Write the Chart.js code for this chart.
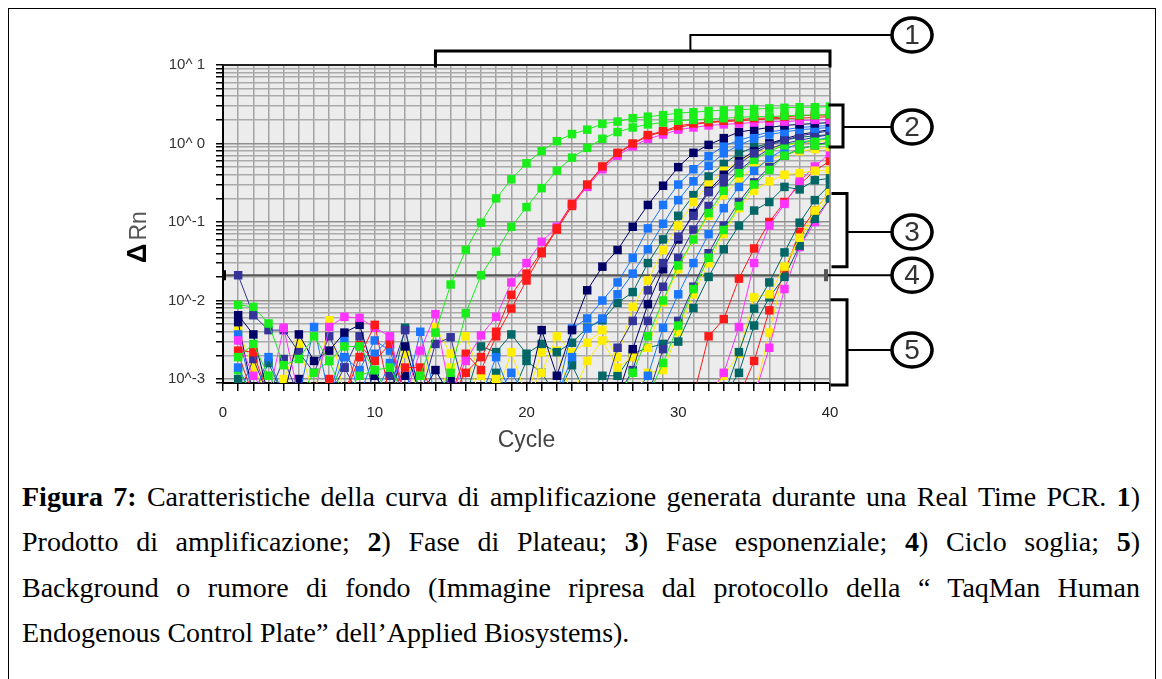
<!DOCTYPE html>
<html>
<head>
<meta charset="utf-8">
<title>Curva di amplificazione Real Time PCR</title>
<script src="https://cdn.jsdelivr.net/npm/chart.js@4.4.1/dist/chart.umd.min.js"></script>
<style>
html, body { margin: 0; padding: 0; background: #fff; }
body { width: 1162px; height: 679px; position: relative; overflow: hidden; }
#frame { position: absolute; left: 8px; top: 8px; width: 1148px; height: 700px; border: 1.5px solid #000; box-sizing: border-box; }
#chart { position: absolute; left: 0; top: 0; }
#caption { position: absolute; left: 22px; top: 474px; width: 1118px;
  font-family: 'Liberation Serif', 'Times New Roman', serif; font-size: 28px; line-height: 45.3px; color: #000; }
#caption div { text-align: justify; text-align-last: justify; }
#caption div.last { text-align-last: left; }
</style>
</head>
<body>
<div id="frame"></div>
<canvas id="chart" width="1162" height="470"></canvas>
<div id="caption">
  <div><b>Figura 7:</b> Caratteristiche della curva di amplificazione generata durante una Real Time PCR. <b>1</b>)</div>
  <div>Prodotto di amplificazione; <b>2</b>) Fase di Plateau; <b>3</b>) Fase esponenziale; <b>4</b>) Ciclo soglia; <b>5</b>)</div>
  <div>Background o rumore di fondo (Immagine ripresa dal protocollo della &ldquo; TaqMan Human</div>
  <div class="last">Endogenous Control Plate&rdquo; dell&rsquo;Applied Biosystems).</div>
</div>
<script>
// cycles on the x axis
const cycles = [1,2,3,4,5,6,7,8,9,10,11,12,13,14,15,16,17,18,19,20,
                21,22,23,24,25,26,27,28,29,30,31,32,33,34,35,36,37,38,39,40];

// reads that sit below the axis floor (only their lines show, dropping out)
const lo = 0.0006;

// threshold (ciclo soglia)
const threshold = 0.021;

// y axis decades and their labels
const decades = [0.001, 0.01, 0.1, 1, 10];
const decadeLabels = ['10^-3', '10^-2', '10^-1', '10^ 0', '10^ 1'];

// ΔRn per well, cycles 1..40
const green1 = [0.0088,0.0083,0.0051,0.0015,0.0018,0.0035,0.0017,0.0026,0.0026,0.0013,
  0.0014,lo,0.0011,0.0039,0.016,0.044,0.098,0.20,0.35,0.56,
  0.80,1.07,1.32,1.5,1.78,1.9,2.1,2.2,2.3,2.45,
  2.5,2.6,2.65,2.7,2.75,2.8,2.85,2.9,2.9,2.95];
const green2 = [0.0019,0.0028,0.0011,lo,lo,0.0012,0.0017,lo,0.0011,0.0013,
  lo,lo,lo,lo,0.0012,0.0069,0.021,0.042,0.087,0.155,
  0.27,0.45,0.66,0.88,1.15,1.4,1.6,1.75,1.85,1.95,
  2.0,2.05,2.1,2.15,2.2,2.2,2.25,2.3,2.3,2.35];
const red1 = [0.0023,0.0022,lo,lo,lo,lo,0.001,lo,0.0019,0.0049,
  lo,0.0014,0.0014,lo,lo,0.0012,0.0019,0.004,0.0118,0.022,
  0.042,0.083,0.17,0.30,0.51,0.76,1.0,1.28,1.44,1.67,
  1.8,1.87,1.95,2.0,2.1,2.1,2.2,2.25,2.3,2.3];
const red2 = [0.0021,lo,lo,lo,lo,lo,lo,lo,0.0027,0.0017,
  0.0028,lo,lo,lo,lo,0.0021,0.0013,0.0035,0.0079,0.018,
  0.04,0.08,0.16,0.29,0.5,0.74,0.98,1.25,1.4,1.6,
  1.75,1.85,1.9,1.95,2.0,2.05,2.1,2.1,2.15,2.2];
const magenta1 = [0.0031,0.0011,lo,0.0045,lo,lo,0.0046,0.0062,0.006,0.0045,
  0.0035,lo,0.0023,0.0067,lo,0.0017,0.0036,0.0062,0.017,0.030,
  0.056,0.087,0.17,0.28,0.47,0.7,0.92,1.15,1.3,1.5,
  1.6,1.7,1.75,1.8,1.85,1.9,1.9,1.95,2.0,2.0];
const navy1 = [0.0065,0.0037,lo,lo,0.0037,0.0017,0.0023,0.0039,0.0049,0.0011,
  lo,0.0026,lo,0.0013,lo,lo,lo,lo,lo,lo,
  0.0042,0.0011,0.0042,0.0135,0.027,0.044,0.087,0.165,0.29,0.50,
  0.76,0.96,1.17,1.4,1.5,1.6,1.7,1.75,1.8,1.85];
const blue1 = [0.0037,lo,0.0019,lo,lo,0.0046,lo,0.0019,0.0013,0.0031,
  0.0023,lo,0.004,lo,lo,lo,lo,lo,0.0012,lo,
  lo,lo,0.0044,0.0059,0.010,0.017,0.035,0.083,0.165,0.30,
  0.47,0.69,0.93,1.1,1.25,1.4,1.5,1.6,1.65,1.7];
const blue2 = [0.0014,lo,lo,lo,lo,lo,lo,0.0031,lo,0.0021,
  0.0033,lo,lo,lo,lo,lo,lo,0.0019,lo,lo,
  lo,lo,0.0019,0.0044,0.0059,0.012,0.022,0.045,0.095,0.19,
  0.33,0.52,0.75,0.95,1.15,1.3,1.4,1.5,1.55,1.6];
const slate1 = [0.021,0.0065,0.0042,0.0042,0.0022,0.0012,0.0035,0.0014,0.0035,lo,
  0.0011,0.0042,lo,0.0028,0.0034,lo,lo,lo,lo,lo,
  lo,lo,lo,lo,lo,0.0025,0.0055,0.0135,0.030,0.065,
  0.12,0.24,0.36,0.55,0.75,0.95,1.1,1.25,1.35,1.45];
const teal1 = [0.001,lo,lo,lo,lo,lo,lo,lo,lo,lo,
  lo,0.0045,lo,lo,lo,lo,0.0026,0.0022,0.0037,0.0021,
  0.0028,0.0022,0.0029,0.0045,0.0056,0.0093,0.0128,0.03,0.06,0.12,
  0.22,0.38,0.55,0.75,0.9,1.0,1.1,1.2,1.25,1.3];
const teal2 = [lo,lo,0.0016,lo,lo,lo,lo,lo,lo,lo,
  lo,lo,lo,lo,lo,lo,lo,0.0012,lo,0.0017,
  0.0012,lo,0.0015,lo,0.0011,0.0011,0.0021,0.0025,0.0028,0.003,
  0.008,0.02,0.045,0.09,0.14,0.18,0.28,0.26,0.34,0.36];
const yellow1 = [0.0042,0.0014,lo,0.001,0.0028,lo,0.0056,lo,lo,lo,
  lo,0.0021,lo,0.0046,0.0021,0.0035,0.0011,lo,0.0022,lo,
  0.0012,0.0035,0.0022,0.0029,0.0042,0.0019,0.0083,0.018,0.044,0.09,
  0.18,0.3,0.45,0.6,0.75,0.85,0.95,1.0,1.05,1.1];
const yellow2 = [lo,lo,lo,lo,lo,lo,lo,lo,lo,lo,
  lo,lo,lo,lo,0.0014,0.0019,lo,0.001,lo,lo,
  0.0022,0.0023,lo,0.0017,0.0031,0.0014,0.0019,0.0025,0.0095,0.025,
  0.06,0.12,0.22,0.35,0.5,0.62,0.72,0.8,0.85,0.9];
const navy2 = [0.0053,lo,lo,lo,0.001,lo,lo,lo,lo,lo,
  lo,0.0011,lo,lo,0.00097,lo,lo,lo,lo,lo,
  lo,lo,lo,lo,lo,lo,0.0024,0.009,0.025,0.06,
  0.13,0.25,0.4,0.6,0.8,1.0,1.15,1.3,1.4,1.5];
const slate2 = [lo,0.0018,lo,0.0018,lo,lo,lo,0.0014,lo,0.0011,
  lo,lo,lo,lo,lo,lo,lo,lo,lo,lo,
  lo,lo,lo,lo,lo,lo,0.0013,0.0055,0.015,0.035,
  0.08,0.16,0.3,0.45,0.65,0.85,1.0,1.1,1.2,1.3];
const green3 = [lo,lo,lo,lo,lo,lo,lo,lo,lo,lo,
  lo,lo,lo,lo,lo,lo,lo,lo,lo,lo,
  lo,lo,lo,lo,lo,lo,lo,lo,0.0016,0.0048,
  0.014,0.035,0.079,0.16,0.3,0.46,0.7,0.85,0.95,1.0];
const green4 = [0.0013,lo,lo,lo,lo,lo,lo,lo,lo,lo,
  lo,lo,lo,lo,lo,lo,lo,lo,lo,lo,
  lo,lo,lo,lo,lo,lo,0.0012,0.0035,0.01,0.028,
  0.06,0.13,0.25,0.42,0.62,0.8,0.95,1.05,1.1,1.15];
const blue3 = [lo,lo,lo,lo,lo,lo,lo,lo,lo,lo,
  0.0016,lo,lo,lo,lo,lo,lo,lo,lo,lo,
  lo,lo,lo,lo,lo,lo,lo,0.0011,0.0045,0.012,
  0.03,0.07,0.15,0.28,0.45,0.65,0.85,1.0,1.1,1.2];
const slate3 = [lo,lo,lo,lo,lo,lo,lo,lo,lo,lo,
  lo,lo,lo,lo,lo,lo,lo,lo,lo,lo,
  lo,lo,lo,lo,lo,lo,lo,lo,0.0024,0.0055,
  0.015,0.04,0.09,0.18,0.32,0.5,0.7,0.85,0.95,1.05];
const yellow3 = [lo,lo,lo,lo,lo,lo,lo,lo,lo,lo,
  lo,lo,lo,lo,lo,lo,lo,lo,lo,lo,
  lo,lo,lo,lo,lo,lo,lo,0.0012,0.0013,0.004,
  0.012,0.03,0.07,0.15,0.25,0.33,0.4,0.42,0.45,0.45];
const magenta2 = [lo,lo,lo,lo,lo,lo,lo,lo,lo,lo,
  lo,lo,lo,lo,lo,lo,lo,lo,lo,lo,
  lo,lo,lo,lo,lo,lo,lo,lo,lo,lo,
  lo,lo,0.0012,0.0046,0.030,0.09,0.17,0.33,0.51,0.75];
const red3 = [lo,lo,lo,lo,lo,lo,lo,lo,lo,lo,
  lo,lo,lo,lo,lo,lo,lo,lo,lo,lo,
  lo,lo,lo,lo,lo,lo,lo,lo,lo,lo,
  lo,0.0035,0.0058,0.019,0.046,0.10,0.18,0.3,0.45,0.6];
const yellow4 = [lo,lo,lo,lo,lo,lo,lo,lo,lo,lo,
  lo,lo,lo,lo,lo,lo,lo,lo,lo,lo,
  lo,lo,lo,lo,lo,lo,lo,lo,lo,lo,
  lo,lo,0.0011,0.0021,0.011,0.012,0.027,0.063,0.14,0.25];
const teal3 = [lo,lo,lo,lo,lo,lo,lo,lo,lo,lo,
  lo,lo,lo,lo,lo,lo,lo,lo,lo,lo,
  lo,lo,lo,lo,lo,lo,lo,lo,lo,lo,
  lo,lo,lo,0.0022,0.0079,0.017,0.041,0.098,0.19,0.3];
const teal4 = [lo,lo,lo,lo,lo,lo,lo,lo,lo,lo,
  lo,lo,lo,lo,lo,lo,lo,lo,lo,lo,
  lo,lo,lo,lo,lo,lo,lo,lo,lo,lo,
  lo,lo,lo,0.0012,0.0048,0.011,0.02,0.05,0.11,0.2];
const red4 = [lo,lo,lo,lo,lo,lo,lo,lo,lo,lo,
  lo,lo,lo,lo,lo,lo,lo,lo,lo,lo,
  lo,lo,lo,lo,lo,lo,lo,lo,lo,lo,
  lo,lo,lo,lo,0.0017,0.0075,0.023,0.075,0.14,0.25];
const magenta3 = [lo,lo,lo,lo,lo,lo,lo,lo,lo,lo,
  lo,lo,lo,lo,lo,lo,lo,lo,lo,lo,
  lo,lo,lo,lo,lo,lo,lo,lo,lo,lo,
  lo,lo,lo,lo,lo,0.0025,0.014,0.048,0.1,0.2];
const yellow5 = [lo,lo,lo,lo,lo,lo,lo,lo,lo,lo,
  lo,lo,lo,lo,lo,lo,lo,lo,lo,lo,
  lo,lo,lo,lo,lo,lo,lo,lo,lo,lo,
  lo,lo,lo,lo,lo,0.0039,0.025,0.06,0.12,0.22];

const GREEN = '#1aee1a', RED = '#ff1a1a', MAGENTA = '#ff33ff', NAVY = '#000066',
      BLUE = '#1a75ff', SLATE = '#333399', TEAL = '#006666', YELLOW = '#ffee00';

// first in the list ends up on top
const wells = [
  [green1, GREEN], [green2, GREEN], [red1, RED], [magenta1, MAGENTA], [red2, RED],
  [navy1, NAVY], [blue1, BLUE], [blue2, BLUE], [slate1, SLATE], [navy2, NAVY],
  [green3, GREEN], [green4, GREEN], [slate2, SLATE], [blue3, BLUE], [slate3, SLATE],
  [yellow1, YELLOW], [teal1, TEAL], [yellow2, YELLOW], [teal2, TEAL], [yellow3, YELLOW],
  [magenta2, MAGENTA], [red3, RED], [teal3, TEAL], [yellow4, YELLOW], [teal4, TEAL],
  [red4, RED], [magenta3, MAGENTA], [yellow5, YELLOW]
];

const datasets = wells.map(([vals, color]) => ({
  data: vals.map((v, i) => ({ x: cycles[i], y: v })),
  borderColor: color,
  backgroundColor: color,
  borderWidth: 1,
  pointStyle: 'rect',
  pointRadius: 6,
  pointHoverRadius: 6,
  pointBorderWidth: 0
}));

datasets.push({
  data: [{ x: 0, y: threshold }, { x: 40, y: threshold }],
  borderColor: '#555',
  borderWidth: 2,
  pointRadius: 0
});

const isDecade = v => Math.abs(Math.log10(v) - Math.round(Math.log10(v))) < 1e-9;

// plot background, frame, axis title and the numbered brackets on the right
const decorations = {
  id: 'decorations',
  beforeDraw(chart) {
    const { ctx, chartArea: a } = chart;
    ctx.save();
    ctx.fillStyle = '#ececec';
    ctx.fillRect(a.left, a.top, a.right - a.left, a.bottom - a.top);
    ctx.restore();
  },
  afterDraw(chart) {
    const { ctx, chartArea: a, scales: { x, y } } = chart;
    ctx.save();

    // top edge dark, right edge grey
    ctx.strokeStyle = '#222';
    ctx.lineWidth = 2;
    ctx.beginPath(); ctx.moveTo(a.left, a.top); ctx.lineTo(a.right, a.top); ctx.stroke();
    ctx.strokeStyle = '#888';
    ctx.lineWidth = 1.5;
    ctx.beginPath(); ctx.moveTo(a.right, a.top); ctx.lineTo(a.right, a.bottom); ctx.stroke();

    // threshold marker on the y axis
    const ty = y.getPixelForValue(threshold);
    ctx.fillStyle = '#000';
    ctx.fillRect(a.left - 1, ty - 5, 4, 10);

    // ΔRn
    ctx.translate(139, 237);
    ctx.rotate(-Math.PI / 2);
    ctx.textBaseline = 'middle';
    ctx.font = 'bold 27px "Liberation Sans", Arial, sans-serif';
    const wD = ctx.measureText('\u0394').width;
    ctx.font = '23px "Liberation Sans", Arial, sans-serif';
    const wR = ctx.measureText('Rn').width;
    const x0 = -(wD + wR + 3) / 2;
    ctx.fillStyle = '#000';
    ctx.font = 'bold 27px "Liberation Sans", Arial, sans-serif';
    ctx.textAlign = 'left';
    ctx.fillText('\u0394', x0, 0);
    ctx.fillStyle = '#555';
    ctx.font = '23px "Liberation Sans", Arial, sans-serif';
    ctx.fillText('Rn', x0 + wD + 3, 1);
    ctx.setTransform(1, 0, 0, 1, 0, 0);

    // brackets
    const cx = a.right + 82, rx = 20, ry = 17;
    const line = (pts, w) => {
      ctx.lineWidth = w;
      ctx.beginPath();
      ctx.moveTo(pts[0][0], pts[0][1]);
      for (let i = 1; i < pts.length; i++) ctx.lineTo(pts[i][0], pts[i][1]);
      ctx.stroke();
    };
    ctx.strokeStyle = '#000';
    ctx.lineCap = 'square';

    // 1: amplified product, cycles 14..40 above the plot
    const bx0 = x.getPixelForValue(14), bx1 = a.right, bTop = a.top - 14;
    line([[bx0, a.top + 1], [bx0, bTop], [bx1, bTop], [bx1, a.top + 1]], 3);
    const stemX = x.getPixelForValue(30.8);
    line([[stemX, bTop], [stemX, 35], [cx - rx, 35]], 2);

    // 2: plateau
    const p0 = y.getPixelForValue(3.1), p1 = y.getPixelForValue(0.9);
    line([[a.right, p0], [a.right + 13, p0], [a.right + 13, p1], [a.right, p1]], 3);
    line([[a.right + 13, 127], [cx - rx, 127]], 2);

    // 3: exponential phase
    const e0 = y.getPixelForValue(0.23), e1 = y.getPixelForValue(0.027);
    line([[a.right + 3, e0], [a.right + 17, e0], [a.right + 17, e1], [a.right + 3, e1]], 3);
    line([[a.right + 17, 232], [cx - rx, 232]], 2);

    // 4: threshold
    line([[a.right - 4, ty], [cx - rx, ty]], 2);
    ctx.fillRect(a.right - 6, ty - 6, 4, 12);

    // 5: background
    const n0 = y.getPixelForValue(0.0102), n1 = a.bottom + 2;
    line([[a.right + 2, n0], [a.right + 17, n0], [a.right + 17, n1], [a.right + 2, n1]], 3);
    line([[a.right + 17, 350], [cx - rx, 350]], 2);

    // numbered circles
    const marks = [[35, '1'], [127, '2'], [232, '3'], [ty, '4'], [350, '5']];
    ctx.textAlign = 'center';
    ctx.textBaseline = 'middle';
    ctx.font = '28px "Liberation Sans", Arial, sans-serif';
    marks.forEach(([cy, txt]) => {
      ctx.fillStyle = '#fff';
      ctx.lineWidth = 3.5;
      ctx.beginPath();
      ctx.ellipse(cx, cy, rx, ry, 0, 0, Math.PI * 2);
      ctx.fill();
      ctx.stroke();
      ctx.fillStyle = '#333';
      ctx.fillText(txt, cx, cy + 1);
    });
    ctx.restore();
  }
};

Chart.defaults.font.family = '"Liberation Sans", Arial, sans-serif';

new Chart(document.getElementById('chart'), {
  type: 'line',
  data: { datasets },
  options: {
    responsive: false,
    animation: false,
    events: [],
    layout: { padding: { left: 0, top: 65, right: 332, bottom: 0 } },
    plugins: { legend: { display: false }, tooltip: { enabled: false } },
    scales: {
      x: {
        type: 'linear',
        min: 0,
        max: 40,
        afterFit(axis) { axis.height = 87; },
        border: { color: '#000', width: 2 },
        grid: { color: '#a3a3a3', lineWidth: 1.5, tickLength: 8, tickColor: '#000', tickWidth: 1.5 },
        ticks: {
          stepSize: 1,
          autoSkip: false,
          maxRotation: 0,
          padding: 13,
          color: '#222',
          font: { size: 15 },
          callback: v => (v % 10 === 0 ? String(v) : '')
        },
        title: {
          display: true,
          text: 'Cycle',
          color: '#444',
          font: { size: 23 },
          padding: { top: 0, bottom: 16 }
        }
      },
      y: {
        type: 'logarithmic',
        min: 0.00089,
        max: 10,
        afterFit(axis) { axis.width = 223; },
        afterBuildTicks(axis) {
          const vals = [];
          for (let e = -4; e <= 0; e++) {
            for (let m = 1; m <= 9; m++) {
              const v = +(m * Math.pow(10, e)).toPrecision(3);
              if (v >= axis.min && v <= axis.max) vals.push(v);
            }
          }
          vals.push(10);
          axis.ticks = vals.map(v => ({ value: v }));
        },
        border: { color: '#000', width: 2 },
        grid: {
          color: c => (c.tick && isDecade(c.tick.value) ? '#8f8f8f' : '#aaaaaa'),
          lineWidth: 1.5,
          tickLength: 7,
          tickColor: '#000',
          tickWidth: 1.5
        },
        ticks: {
          autoSkip: false,
          padding: 11,
          color: '#333',
          font: { size: 15 },
          callback: v => {
            const i = decades.findIndex(d => Math.abs(d - v) / d < 1e-6);
            return i >= 0 ? decadeLabels[i] : '';
          }
        }
      }
    }
  },
  plugins: [decorations]
});
</script>
</body>
</html>
